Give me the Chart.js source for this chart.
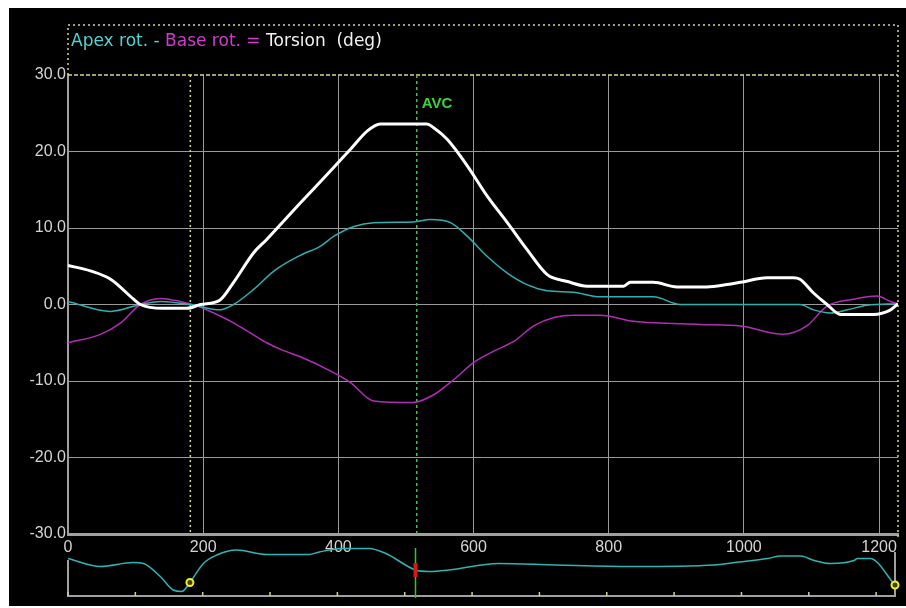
<!DOCTYPE html>
<html>
<head>
<meta charset="utf-8">
<script src="https://cdn.jsdelivr.net/npm/chart.js@4.4.1/dist/chart.umd.min.js"></script>
<style>
body { margin: 0; background: #fff; }
#frame { position: absolute; left: 9px; top: 8px; width: 897px; height: 598px; background: #000; }
canvas { position: absolute; left: 0; top: 0; }
</style>
</head>
<body>
<div id="frame"></div>
<canvas id="torsionChart" width="906" height="608"></canvas>
<canvas id="ecgChart" width="906" height="608"></canvas>
<script>
// time axis in ms, rotations in degrees
const torsionTime = [0, 33, 63, 97, 107, 140, 176, 196, 225, 245, 275, 294, 343, 393, 418, 443, 462, 531, 541, 561, 591, 620, 650, 679, 709, 739, 768, 822, 832, 866, 901, 945, 975, 995, 1034, 1073, 1083, 1103, 1123, 1143, 1191, 1217, 1228];
const torsionDeg = [5.1, 4.4, 3.3, 0.7, 0, -0.5, -0.5, 0, 0.6, 2.9, 6.8, 8.5, 13.2, 17.9, 20.3, 22.7, 23.6, 23.6, 23.1, 21.6, 18.1, 14.2, 10.7, 7.2, 3.9, 3.0, 2.4, 2.4, 2.9, 2.9, 2.3, 2.3, 2.6, 2.9, 3.5, 3.5, 3.3, 1.5, 0, -1.3, -1.3, -0.7, 0.1];

const apexTime = [0, 63, 107, 137, 181, 225, 245, 275, 305, 343, 373, 393, 423, 452, 511, 536, 566, 591, 620, 650, 679, 709, 748, 787, 866, 906, 1083, 1103, 1128, 1153, 1182, 1228];
const apexDeg = [0.4, -0.9, 0, 0.4, 0, -0.7, 0, 2.0, 4.4, 6.4, 7.6, 8.9, 10.2, 10.7, 10.8, 11.1, 10.7, 8.9, 6.3, 4.1, 2.6, 1.8, 1.6, 1.0, 1.0, 0, 0, -0.7, -1.1, -0.7, -0.1, 0.1];

const baseTime = [0, 48, 78, 107, 137, 166, 191, 225, 245, 275, 294, 318, 343, 393, 418, 452, 511, 541, 571, 600, 630, 660, 689, 719, 748, 787, 837, 935, 995, 1058, 1093, 1123, 1162, 1197, 1217, 1228];
const baseDeg = [-5.0, -3.9, -2.4, 0, 0.8, 0.4, -0.2, -1.5, -2.4, -4.0, -5.0, -6.0, -6.8, -8.9, -10.2, -12.6, -12.8, -11.8, -9.8, -7.6, -6.1, -4.8, -2.8, -1.7, -1.4, -1.4, -2.2, -2.6, -2.8, -3.9, -2.8, -0.2, 0.7, 1.1, 0.4, 0.1];

// ECG strip under the plot (arbitrary units)
const ecgTime = [0, 48, 97, 112, 137, 156, 169, 181, 201, 221, 250, 295, 358, 373, 407, 447, 472, 516, 536, 566, 639, 724, 836, 960, 990, 1039, 1058, 1088, 1108, 1132, 1167, 1172, 1191, 1228];
const ecgLevel = [7.5, 5.9, 6.7, 6.5, 3.9, 1.2, 0.9, 2.7, 6.5, 8.2, 9.2, 8.3, 8.3, 8.8, 9.5, 9.5, 8.5, 5.2, 4.9, 5.2, 6.5, 6.2, 5.9, 6.2, 6.7, 7.5, 8.0, 8.0, 7.1, 6.5, 7.1, 7.5, 7.5, 2.2];

const markerTime = [181, 1228];
const markerLevel = [2.7, 2.2];
const avcTime = 516;
const avcLevel = 5.2;

const xTicks = [0, 200, 400, 600, 800, 1000, 1200];
const yTicks = [-30, -20, -10, 0, 10, 20, 30];
const titleParts = [['Apex rot. - ', '#4fd4d4'], ['Base rot. = ', '#d03cd0'], ['Torsion  (deg)', '#f2f2f2']];

function pts(xs, ys) { return xs.map((v, i) => ({ x: v, y: ys[i] })); }

const tickFont = { family: 'Liberation Sans, Arial, sans-serif', size: 16 };

const decor = {
  id: 'decor',
  beforeDatasetsDraw(chart) {
    const { ctx, chartArea: a, scales: { x } } = chart;
    ctx.save();
    ctx.strokeStyle = '#d6d68a';
    ctx.lineWidth = 1.5;
    ctx.setLineDash([2, 3]);
    ctx.beginPath();
    ctx.moveTo(a.left, a.top); ctx.lineTo(a.left, a.top - 50);
    ctx.lineTo(a.right, a.top - 50); ctx.lineTo(a.right, a.bottom + 6);
    const xm = x.getPixelForValue(markerTime[0]);
    ctx.moveTo(xm, a.top); ctx.lineTo(xm, a.bottom - 2);
    ctx.stroke();
    ctx.setLineDash([4, 2]);
    ctx.beginPath();
    ctx.moveTo(a.left, a.top); ctx.lineTo(a.right, a.top);
    ctx.stroke();
    ctx.strokeStyle = '#3cc83c';
    ctx.setLineDash([3, 3]);
    const xa = x.getPixelForValue(avcTime);
    ctx.beginPath(); ctx.moveTo(xa, a.top); ctx.lineTo(xa, a.bottom); ctx.stroke();
    ctx.restore();
  },
  afterDraw(chart) {
    const { ctx, chartArea: a, scales: { x } } = chart;
    ctx.save();
    ctx.font = '17px "DejaVu Sans", sans-serif';
    ctx.textBaseline = 'middle';
    let tx = a.left + 3;
    titleParts.forEach(([t, c]) => {
      ctx.fillStyle = c;
      ctx.fillText(t, tx, a.top - 33);
      tx += ctx.measureText(t).width;
    });
    ctx.fillStyle = '#3cd23c';
    ctx.font = 'bold 15px "Liberation Sans", sans-serif';
    ctx.fillText('AVC', x.getPixelForValue(avcTime) + 5, a.top + 29);
    ctx.restore();
  }
};

new Chart(document.getElementById('torsionChart'), {
  type: 'line',
  data: {
    datasets: [
      { label: 'Torsion', data: pts(torsionTime, torsionDeg), borderColor: '#ffffff', borderWidth: 3 },
      { label: 'Apex rot.', data: pts(apexTime, apexDeg), borderColor: '#2fb0b0', borderWidth: 1.5 },
      { label: 'Base rot.', data: pts(baseTime, baseDeg), borderColor: '#b22cb6', borderWidth: 1.5 }
    ]
  },
  options: {
    responsive: false,
    animation: false,
    layout: { padding: { top: 75, right: 8, left: 0, bottom: 0 } },
    elements: { point: { radius: 0 }, line: { cubicInterpolationMode: 'monotone' } },
    plugins: { legend: { display: false }, tooltip: { enabled: false } },
    scales: {
      x: {
        type: 'linear', min: 0, max: 1228,
        afterBuildTicks: s => { s.ticks = xTicks.map(v => ({ value: v })); },
        afterFit: s => { s.height = 74; },
        ticks: { color: '#d4d4d4', font: tickFont, padding: 4, maxRotation: 0, callback: v => String(v) },
        grid: { color: '#9a9a9a', lineWidth: 1, drawTicks: false },
        border: { color: '#a0a0a0', width: 3 }
      },
      y: {
        min: -30, max: 30,
        afterBuildTicks: s => { s.ticks = yTicks.map(v => ({ value: v })); },
        afterFit: s => { s.width = 68; },
        ticks: { color: '#d4d4d4', font: tickFont, padding: 2, callback: v => v.toFixed(1) },
        grid: { color: c => c.tick && c.tick.value === 30 ? 'rgba(0,0,0,0)' : '#9a9a9a', lineWidth: 1, drawTicks: false },
        border: { color: '#a0a0a0', width: 1.5 }
      }
    }
  },
  plugins: [decor]
});

const ecgDecor = {
  id: 'ecgDecor',
  beforeDatasetsDraw(chart) {
    const { ctx, chartArea: a, scales: { x } } = chart;
    ctx.save();
    ctx.strokeStyle = '#a0a0a0';
    ctx.lineWidth = 2;
    ctx.beginPath();
    ctx.moveTo(a.left, a.top + 14); ctx.lineTo(a.left, a.bottom);
    ctx.lineTo(a.right, a.bottom); ctx.lineTo(a.right, a.top + 6);
    ctx.stroke();
    ctx.strokeStyle = '#cfcf90';
    ctx.lineWidth = 1.5;
    ctx.beginPath();
    for (let t = 0; t <= 1200; t += 100) {
      const px = x.getPixelForValue(t);
      ctx.moveTo(px, a.bottom); ctx.lineTo(px, a.bottom - 4);
    }
    ctx.stroke();
    ctx.strokeStyle = '#2ec82e';
    ctx.lineWidth = 1.5;
    const xa = x.getPixelForValue(avcTime);
    ctx.beginPath(); ctx.moveTo(xa, a.top + 2); ctx.lineTo(xa, a.bottom + 2); ctx.stroke();
    ctx.restore();
  }
};

new Chart(document.getElementById('ecgChart'), {
  type: 'line',
  data: {
    datasets: [
      { label: 'AVC', data: [{ x: avcTime, y: avcLevel }], showLine: false, pointStyle: 'line', rotation: 90,
        pointRadius: 7, pointBorderWidth: 4, pointBorderColor: '#d81818' },
      { label: 'markers', data: pts(markerTime, markerLevel), showLine: false, pointStyle: 'circle',
        pointRadius: 3.5, pointBorderWidth: 2, pointBorderColor: '#f0f020', pointBackgroundColor: '#404000' },
      { label: 'ECG', data: pts(ecgTime, ecgLevel), borderColor: '#2fb4b4', borderWidth: 1.5, pointRadius: 0,
        cubicInterpolationMode: 'monotone' }
    ]
  },
  options: {
    responsive: false,
    animation: false,
    clip: false,
    layout: { padding: { top: 546, right: 8, left: 68, bottom: 12 } },
    plugins: { legend: { display: false }, tooltip: { enabled: false } },
    scales: {
      x: { type: 'linear', min: 0, max: 1228, display: false },
      y: { min: 0, max: 10, display: false }
    }
  },
  plugins: [ecgDecor]
});
</script>
</body>
</html>
